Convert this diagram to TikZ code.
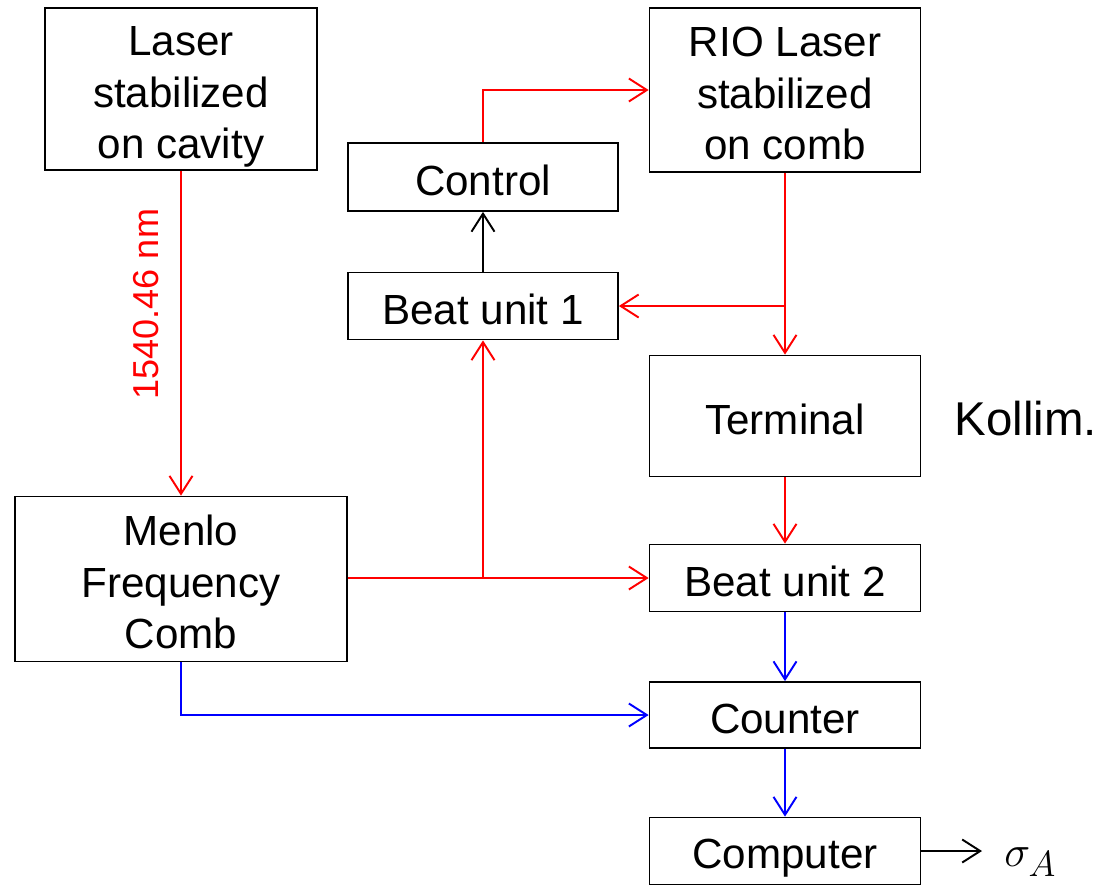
\documentclass[tikz,border=0pt]{standalone}
\usepackage{fontspec}
\setmainfont{Liberation Sans}
\usetikzlibrary{arrows.meta}
\newcommand{\lowtext}[1]{\raisebox{-4.5pt}[\height][\depth]{\begin{tabular}{@{}c@{}}#1\end{tabular}}}

\begin{document}
\begin{tikzpicture}[x=0.02cm, y=-0.02cm,
  box/.style={draw, line width=1pt, align=center, inner sep=0pt,
    font=\fontsize{24}{29.4}\selectfont,
    execute at begin node=\rule{0pt}{25pt},
    execute at end node=\rule[-4pt]{0pt}{4pt}},
  tallbox/.style={draw, line width=1pt, inner sep=0pt,
    font=\fontsize{24}{29.4}\selectfont},
  conn/.style={line width=1.1pt, -{Straight Barb[length=0.36cm, width=0.46cm, line width=1.1pt]}},
  redline/.style={conn, red},
  blueline/.style={conn, blue}]
\useasboundingbox (0,0) rectangle (1101,887);
% boxes
\node[tallbox, minimum width=5.44cm, minimum height=3.24cm] (laser) at (181,89) {\lowtext{Laser\\stabilized\\on cavity}};
\node[tallbox, minimum width=5.42cm, minimum height=3.28cm] (rio) at (785,90) {\lowtext{RIO Laser\\stabilized\\on comb}};
\node[box, minimum width=5.4cm, minimum height=1.36cm] (ctrl) at (483,177) {Control};
\node[box, minimum width=5.4cm, minimum height=1.34cm] (beat1) at (483,306) {Beat unit 1};
\node[box, minimum width=5.42cm, minimum height=2.42cm] (term) at (785,416) {Terminal};
\node[tallbox, minimum width=6.64cm, minimum height=3.3cm] (menlo) at (181,579) {\lowtext{Menlo\\Frequency\\Comb}};
\node[box, minimum width=5.42cm, minimum height=1.34cm] (beat2) at (785,578) {Beat unit 2};
\node[box, minimum width=5.42cm, minimum height=1.32cm] (count) at (785,715) {Counter};
\node[box, minimum width=5.42cm, minimum height=1.34cm] (comp) at (785,851) {Computer};
\node[font=\fontsize{27}{32}\selectfont] (kollim) at (1026,419) {Kollim.};
\node[inner sep=0pt, anchor=west, font=\fontsize{28}{32}\selectfont] (sigma) at (1004,862) {$\sigma_A$};
% red connectors
\draw[redline] (laser.south) -- node[pos=0.41, left=9pt, rotate=90, anchor=south,
  font=\fontsize{20.5}{24}\selectfont, text=red] {1540.46 nm} (menlo.north);
\draw[redline] (ctrl.north) |- (rio.west);
\draw[redline] (rio.south) -- (term.north);
\coordinate (split1) at (rio.south |- beat1.east);
\draw[redline] (split1) -- (beat1.east);
\draw[redline] (term.south) -- (beat2.north);
\draw[redline] (menlo.east |- beat2.west) -- (beat2.west);
\coordinate (split2) at (beat1.south |- beat2.west);
\draw[redline] (split2) -- (beat1.south);
% black connectors
\draw[conn] (beat1.north) -- (ctrl.south);
\draw[conn, shorten >=0.44cm] (comp.east) -- (sigma.west |- comp.east);
% blue connectors
\draw[blueline] (beat2.south) -- (count.north);
\draw[blueline] (menlo.south) |- (count.west);
\draw[blueline] (count.south) -- (comp.north);
\end{tikzpicture}
\end{document}
